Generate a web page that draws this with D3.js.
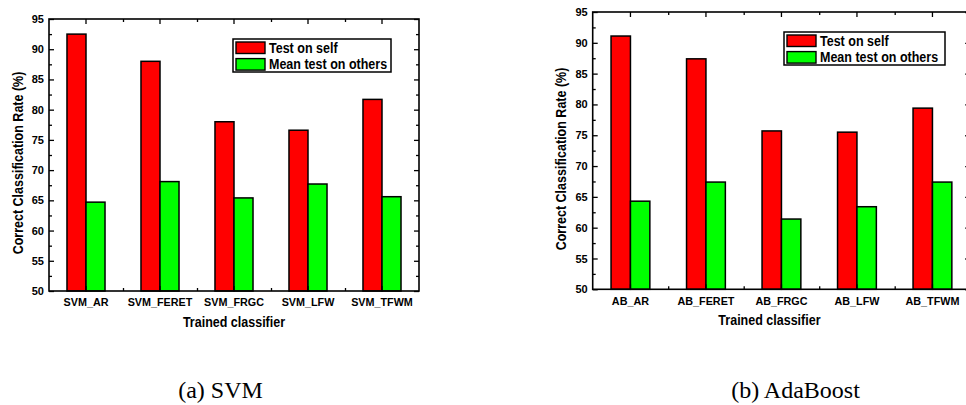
<!DOCTYPE html>
<html>
<head>
<meta charset="utf-8">
<script src="https://cdn.jsdelivr.net/npm/d3@7"></script>
<style>
  html, body { margin: 0; padding: 0; background: #fff; }
  svg text { font-family: "Liberation Sans", Arial, sans-serif; }
  .caption { font-family: "Liberation Serif", "Times New Roman", serif !important; }
</style>
</head>
<body>
<div id="chart"></div>
<script>
// values
const seriesNames = ["Test on self", "Mean test on others"];
const seriesColors = ["#ff0000", "#00ff00"];

const svmClassifiers = ["SVM_AR", "SVM_FERET", "SVM_FRGC", "SVM_LFW", "SVM_TFWM"];
const svmSelf = [92.5, 88.0, 78.0, 76.6, 81.7];
const svmOthers = [64.7, 68.1, 65.4, 67.7, 65.6];

const abClassifiers = ["AB_AR", "AB_FERET", "AB_FRGC", "AB_LFW", "AB_TFWM"];
const abSelf = [91.1, 87.4, 75.7, 75.5, 79.4];
const abOthers = [64.3, 67.4, 61.4, 63.4, 67.4];

const yDomain = [50, 95];
const yTicks = [50, 55, 60, 65, 70, 75, 80, 85, 90, 95];
const yMinorTicks = [52.5, 57.5, 62.5, 67.5, 72.5, 77.5, 82.5, 87.5, 92.5];

const svg = d3.select("#chart").append("svg")
    .attr("width", 966)
    .attr("height", 405);

// the original figure uses a slightly narrowed bold sans, squeeze text horizontally
function condense(sel, factor) {
    sel.each(function () {
        const len = this.getComputedTextLength();
        d3.select(this)
            .attr("textLength", len * factor)
            .attr("lengthAdjust", "spacingAndGlyphs");
    });
}

function drawPanel(opt) {
    const W = opt.width, H = opt.height;
    const g = svg.append("g").attr("transform", "translate(" + opt.left + "," + opt.top + ")");

    const x0 = d3.scaleBand().domain(opt.categories).range([0, W]).paddingInner(0.486).paddingOuter(0.243);
    const x1 = d3.scaleBand().domain(seriesNames).range([0, x0.bandwidth()]).padding(0);
    const xIdx = d3.scaleLinear().domain([-0.5, opt.categories.length - 0.5]).range([0, W]);
    const y = d3.scaleLinear().domain(yDomain).range([H, 0]);

    const rows = opt.categories.map((c, i) => ({ cat: c, vals: [opt.self[i], opt.others[i]] }));

    // bars
    const grp = g.selectAll(".grp").data(rows).enter().append("g")
        .attr("transform", d => "translate(" + x0(d.cat) + ",0)");
    grp.selectAll("rect")
        .data(d => d.vals.map((v, k) => ({ key: seriesNames[k], v: v, k: k })))
        .enter().append("rect")
        .attr("x", d => x1(d.key))
        .attr("y", d => y(d.v))
        .attr("width", x1.bandwidth())
        .attr("height", d => H - y(d.v))
        .attr("fill", d => seriesColors[d.k])
        .attr("stroke", "#000")
        .attr("stroke-width", 1.5);

    const styleAxis = sel => {
        sel.select(".domain").remove();
        sel.selectAll("line").attr("stroke", "#000").attr("stroke-width", 1.3);
    };

    // left axis
    g.append("g")
        .call(d3.axisLeft(y).tickValues(yTicks).tickSize(-5).tickPadding(5).tickFormat(d3.format("d")))
        .call(styleAxis)
        .selectAll("text").attr("font-size", 11).attr("font-weight", "bold").attr("fill", "#000");
    g.append("g")
        .call(d3.axisLeft(y).tickValues(yMinorTicks).tickSize(-3).tickFormat(""))
        .call(styleAxis);

    // right axis (ticks only)
    g.append("g").attr("transform", "translate(" + W + ",0)")
        .call(d3.axisRight(y).tickValues(yTicks).tickSize(-5).tickFormat(""))
        .call(styleAxis);
    g.append("g").attr("transform", "translate(" + W + ",0)")
        .call(d3.axisRight(y).tickValues(yMinorTicks).tickSize(-3).tickFormat(""))
        .call(styleAxis);

    // bottom axis
    g.append("g").attr("transform", "translate(0," + H + ")")
        .call(d3.axisBottom(x0).tickSize(-5).tickPadding(7))
        .call(styleAxis)
        .selectAll("text").attr("font-size", 11.6).attr("font-weight", "bold").attr("fill", "#000")
        .call(condense, 0.93);
    g.append("g").attr("transform", "translate(0," + H + ")")
        .call(d3.axisBottom(xIdx).tickValues(d3.range(0.5, opt.categories.length - 1, 1)).tickSize(-3).tickFormat(""))
        .call(styleAxis);

    // top axis
    g.append("g")
        .call(d3.axisTop(x0).tickSize(-5).tickFormat(""))
        .call(styleAxis);
    g.append("g")
        .call(d3.axisTop(xIdx).tickValues(d3.range(0.5, opt.categories.length - 1, 1)).tickSize(-3).tickFormat(""))
        .call(styleAxis);

    // frame
    g.append("rect")
        .attr("width", W).attr("height", H)
        .attr("fill", "none").attr("stroke", "#000").attr("stroke-width", 1.6);

    // axis titles
    g.append("text")
        .attr("x", W / 2 + opt.xTitleShift)
        .attr("y", H + 36)
        .attr("text-anchor", "middle")
        .attr("font-size", 14.8).attr("font-weight", "bold")
        .text("Trained classifier")
        .call(condense, 0.845);
    g.append("text")
        .attr("transform", "rotate(-90)")
        .attr("x", -opt.yTitleCenter)
        .attr("y", -opt.yTitleOffset)
        .attr("text-anchor", "middle")
        .attr("font-size", 14.8).attr("font-weight", "bold")
        .text("Correct Classification Rate (%)")
        .call(condense, 0.845);

    // legend
    const lg = g.append("g").attr("transform", "translate(" + opt.legendX + "," + opt.legendY + ")");
    lg.append("rect").attr("width", opt.legendW).attr("height", 33)
        .attr("fill", "#fff").attr("stroke", "#000").attr("stroke-width", 1.5);
    seriesNames.forEach((name, k) => {
        lg.append("rect")
            .attr("x", 3).attr("y", 3 + k * 16.6)
            .attr("width", 29).attr("height", 11.5)
            .attr("fill", seriesColors[k]).attr("stroke", "#000").attr("stroke-width", 1.4);
        lg.append("text")
            .attr("x", 36).attr("y", 13.6 + k * 16.6)
            .attr("font-size", 14.8).attr("font-weight", "bold")
            .text(name)
            .call(condense, 0.845);
    });

    // caption
    svg.append("text")
        .attr("class", "caption")
        .attr("x", opt.captionX).attr("y", 397.5)
        .attr("text-anchor", "middle")
        .attr("font-size", 24)
        .text(opt.caption);
}

drawPanel({
    left: 49, top: 19, width: 370, height: 272,
    categories: svmClassifiers, self: svmSelf, others: svmOthers,
    legendX: 184, legendY: 20, legendW: 158,
    xTitleShift: 0, yTitleCenter: 144, yTitleOffset: 26.5,
    caption: "(a) SVM", captionX: 220.5
});

drawPanel({
    left: 592.7, top: 12, width: 377.5, height: 277.3,
    categories: abClassifiers, self: abSelf, others: abOthers,
    legendX: 191.3, legendY: 20, legendW: 161,
    xTitleShift: -12, yTitleCenter: 147, yTitleOffset: 26.5,
    caption: "(b) AdaBoost", captionX: 795.5
});
</script>
</body>
</html>
